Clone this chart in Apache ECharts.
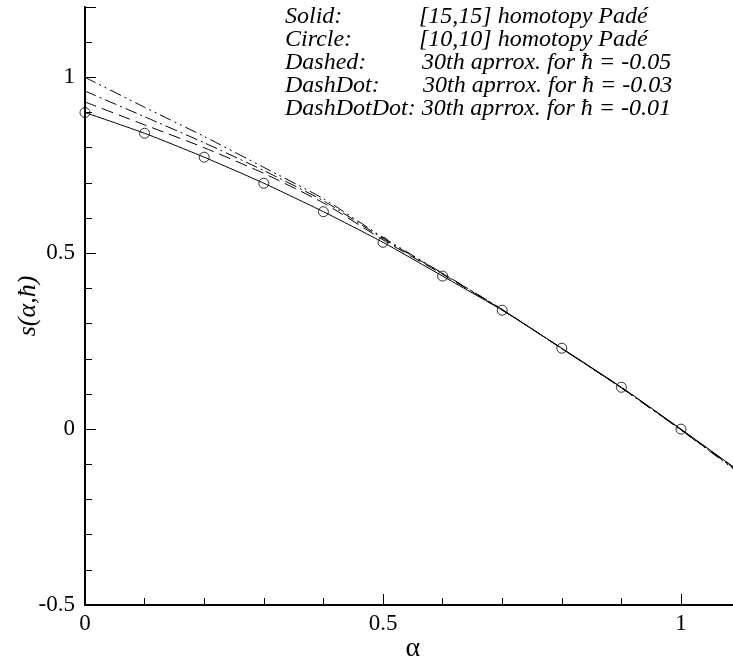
<!DOCTYPE html>
<html><head><meta charset="utf-8">
<script src="https://cdn.jsdelivr.net/npm/echarts@6/dist/echarts.min.js"></script>
<style>html,body{margin:0;padding:0;background:#fff}#c{width:733px;height:662px}</style>
</head><body><div id="c"></div>
<script>
const alpha = [0, 0.1, 0.2, 0.3, 0.4, 0.5, 0.6, 0.7, 0.8, 0.9, 1.0, 1.1];
const solid15 = [0.900, 0.841, 0.773, 0.699, 0.618, 0.531, 0.435, 0.338, 0.230, 0.119, 0.000, -0.122];
const circleAlpha = [0, 0.1, 0.2, 0.3, 0.4, 0.5, 0.6, 0.7, 0.8, 0.9, 1.0];
const circle10 = [0.900, 0.841, 0.773, 0.699, 0.618, 0.531, 0.435, 0.338, 0.230, 0.119, 0.000];
const dashedH005 = [0.930, 0.865, 0.800, 0.727, 0.643, 0.538, 0.440, 0.339, 0.229, 0.118, -0.001, -0.124];
const dashDotH003 = [0.961, 0.888, 0.814, 0.735, 0.649, 0.542, 0.442, 0.340, 0.229, 0.117, -0.002, -0.126];
const dashDotDotH001 = [1.000, 0.915, 0.832, 0.744, 0.655, 0.545, 0.443, 0.340, 0.229, 0.117, -0.003, -0.128];

const legendKeys = ['Solid:', 'Circle:', 'Dashed:', 'DashDot:'];
const legendDescs = ['[15,15] homotopy Padé', '[10,10] homotopy Padé', '30th aprrox. for ħ = -0.05', '30th aprrox. for ħ = -0.03'];
const legendLast = 'DashDotDot: 30th aprrox. for ħ = -0.01';

const xTickLabels = ['0', '0.5', '1'];
const yTickLabels = ['-0.5', '0', '0.5', '1'];

const FONT = '"Liberation Serif", "Times New Roman", serif';
const pair = (xs, ys) => xs.map((x, i) => [x, ys[i]]);

const chart = echarts.init(document.getElementById('c'));
const rowY = [17, 40, 63, 86, 109];
const descX = [419, 419, 422, 423];
const LFONT = 'italic 24px ' + FONT;
const graphics = [];
legendKeys.forEach((k, i) => {
  graphics.push({type: 'text', x: 285, y: rowY[i], style: {text: k, font: LFONT, fill: '#000', verticalAlign: 'middle', textVerticalAlign: 'middle'}});
  graphics.push({type: 'text', x: descX[i], y: rowY[i], style: {text: legendDescs[i], font: LFONT, fill: '#000', verticalAlign: 'middle', textVerticalAlign: 'middle'}});
});
graphics.push({type: 'text', x: 285, y: rowY[4], style: {text: legendLast, font: LFONT, fill: '#000', verticalAlign: 'middle', textVerticalAlign: 'middle'}});

const lineSeries = (data, type) => ({
  type: 'line', data: pair(alpha, data), showSymbol: false, symbol: 'none', smooth: 0.2,
  lineStyle: {color: '#000', width: 1, type: type}, z: 3
});

chart.setOption({
  animation: false,
  backgroundColor: '#fff',
  grid: {left: 85, top: 7, width: 655.6, height: 598, outerBoundsMode: 'none', containLabel: false},
  xAxis: {
    type: 'value', min: 0, max: 1.1, interval: 0.5,
    name: 'α', nameLocation: 'middle', nameGap: 30, nameMoveOverlap: false,
    nameTextStyle: {fontFamily: FONT, fontSize: 28, color: '#000'},
    axisLine: {onZero: false, lineStyle: {color: '#000', width: 2}},
    axisTick: {inside: true, length: 11, lineStyle: {color: '#000', width: 1}},
    minorTick: {show: true, splitNumber: 5, length: 7, lineStyle: {color: '#000', width: 1}},
    splitLine: {show: false},
    axisLabel: {fontFamily: FONT, fontSize: 23, color: '#000', margin: 7, showMaxLabel: false,
      formatter: v => { const s = xTickLabels.find(t => Math.abs(parseFloat(t) - v) < 1e-9); return s === undefined ? '' : s; }}
  },
  yAxis: {
    type: 'value', min: -0.5, max: 1.2, interval: 0.5,
    name: 's(α,ħ)', nameLocation: 'middle', nameGap: 44, nameRotate: 90, nameMoveOverlap: false,
    nameTextStyle: {fontFamily: FONT, fontSize: 26, fontStyle: 'italic', color: '#000'},
    axisLine: {onZero: false, lineStyle: {color: '#000', width: 2}},
    axisTick: {inside: true, length: 11, lineStyle: {color: '#000', width: 1}},
    minorTick: {show: true, splitNumber: 5, length: 7, lineStyle: {color: '#000', width: 1}},
    splitLine: {show: false},
    axisLabel: {fontFamily: FONT, fontSize: 23, color: '#000', margin: 10, showMaxLabel: false,
      formatter: v => { const s = yTickLabels.find(t => Math.abs(parseFloat(t) - v) < 1e-9); return s === undefined ? '' : s; }}
  },
  graphic: graphics,
  series: [
    lineSeries(solid15, 'solid'),
    lineSeries(dashedH005, [12, 6]),
    lineSeries(dashDotH003, [12, 4, 2, 4]),
    lineSeries(dashDotDotH001, [12, 4, 2, 4, 2, 4]),
    {
      type: 'scatter', data: pair(circleAlpha, circle10), symbol: 'circle', symbolSize: 10,
      itemStyle: {color: 'rgba(0,0,0,0)', borderColor: '#000', borderWidth: 1}, z: 4
    }
  ]
});
</script></body></html>
